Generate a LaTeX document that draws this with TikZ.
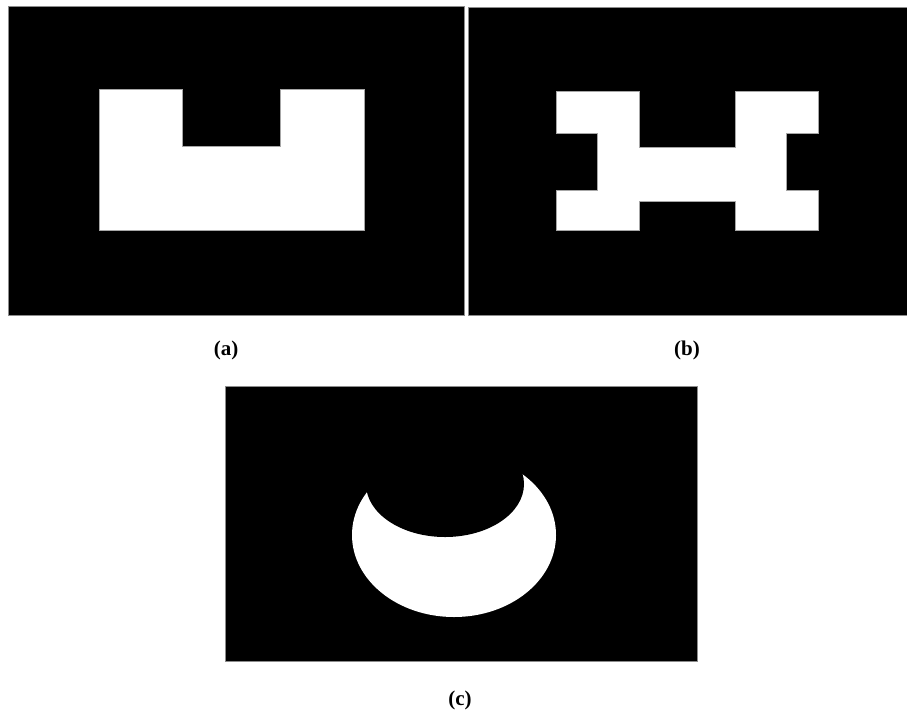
\documentclass[tikz,border=0pt]{standalone}
\usepackage{fontspec}
\setmainfont{Liberation Serif}
\usepackage{tikz}
\usetikzlibrary{positioning}
\tikzset{
  panel/.style={fill=black,draw=black!45,line width=0.8pt},
  blob/.style={fill=white,draw=black!35,line width=0.5pt},
  captext/.style={font=\bfseries\fontsize{21}{24}\selectfont,inner sep=0pt}
}
\begin{document}
\begin{tikzpicture}[x=1pt,y=-1pt]
\useasboundingbox (0,0) rectangle (907,716);
% panel (a)
\filldraw[panel] (8,6) rectangle (464,315);
\filldraw[blob] (99,89) -- (182,89) -- (182,146) -- (280,146) -- (280,89)
  -- (364,89) -- (364,230) -- (99,230) -- cycle;
% panel (b)
\filldraw[panel] (468,7) rectangle (907,315);
\filldraw[blob] (556,91) -- (639,91) -- (639,147) -- (735,147) -- (735,91)
  -- (818,91) -- (818,133) -- (786,133) -- (786,190) -- (818,190)
  -- (818,230) -- (735,230) -- (735,201) -- (639,201) -- (639,230)
  -- (556,230) -- (556,190) -- (597,190) -- (597,133) -- (556,133) -- cycle;
% panel (c)
\filldraw[panel] (225,386) rectangle (697,661);
\fill[white] (454,535) ellipse [x radius=102pt,y radius=82pt];
\fill[black] (445,484) ellipse [x radius=79pt,y radius=53pt];
% captions
\node[captext] (capa) at (226,350) {(a)};
\node[captext] (capb) at (687,350) {(b)};
\node[captext] (capc) at (460,700) {(c)};
\end{tikzpicture}
\end{document}
